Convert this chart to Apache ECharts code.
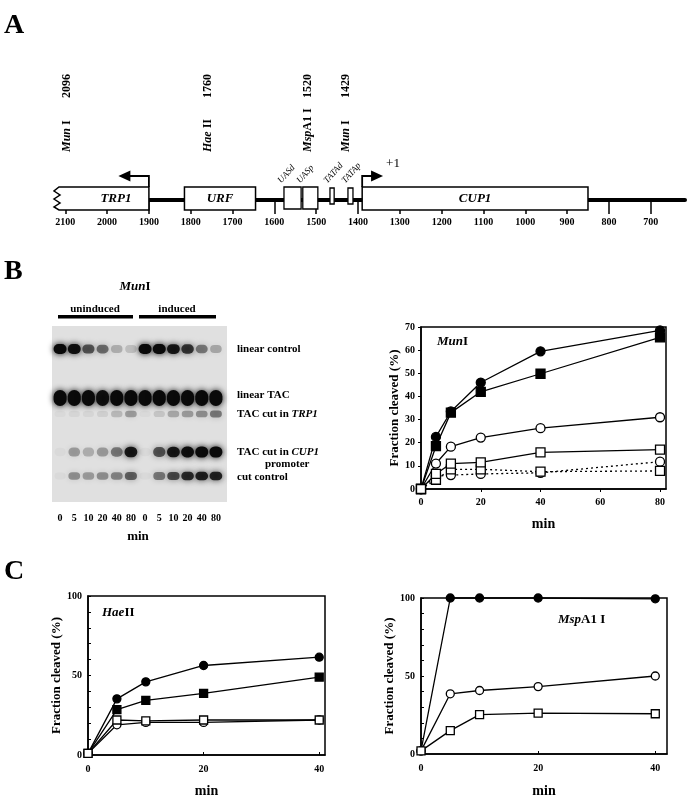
<!DOCTYPE html>
<html>
<head>
<meta charset="utf-8">
<script src="https://cdn.jsdelivr.net/npm/echarts@6/dist/echarts.min.js"></script>
<style>
html, body { margin: 0; padding: 0; background: #fff; }
#chart { width: 690px; height: 799px; }
</style>
</head>
<body>
<div id="chart"></div>
<script>
// ---- panel A: CUP1 / TRP1 map (bp) ----
const mapStart = 2115
const mapEnd = 618
const mapTicks = [2100, 2000, 1900, 1800, 1700, 1600, 1500, 1400, 1300, 1200, 1100, 1000, 900, 800, 700]
const genes = [['TRP1', 2115, 1900], ['URF', 1815, 1645], ['CUP1', 1390, 850]]
const promoterElements = [['UASd', 1577, 1536], ['UASp', 1532, 1496], ['TATAd', 1467, 1457], ['TATAp', 1424, 1412]]
const startArrows = [[1900, 1973, ''], [1390, 1340, '+1']]
const sites = [['Mun', ' I', 2096], ['Hae', ' II', 1760], ['Msp', 'A1 I', 1520], ['Mun', ' I', 1429]]

// ---- panel B: gel ----
const lanes = ['0', '5', '10', '20', '40', '80', '0', '5', '10', '20', '40', '80']
const bandRows = ['linear control', 'linear TAC', 'TAC cut in TRP1', 'TAC cut in CUP1', 'cut control']
const bandDepth = [23, 72, 88, 126, 150]
const linearControl = [1, 0.95, 0.6, 0.5, 0.22, 0.15, 1, 1, 0.9, 0.75, 0.45, 0.25]
const linearTAC = [1, 1, 1, 0.95, 1, 1, 1, 1, 1, 1, 1, 1]
const cutTRP1 = [0.03, 0.05, 0.05, 0.08, 0.18, 0.3, 0.03, 0.12, 0.25, 0.3, 0.35, 0.45]
const cutCUP1 = [0.03, 0.3, 0.22, 0.3, 0.45, 0.9, 0.03, 0.6, 0.9, 0.95, 1, 1]
const cutControl = [0.03, 0.35, 0.3, 0.35, 0.4, 0.55, 0.03, 0.45, 0.65, 0.8, 0.85, 0.85]
const gelRows = [linearControl, linearTAC, cutTRP1, cutCUP1, cutControl]

// ---- panel B: MunI time course ----
const munTimes = [0, 5, 10, 20, 40, 80]
const munInducedCircle = [0, 22.5, 33.5, 46, 59.5, 68.5]
const munInducedSquare = [0, 18.5, 33, 42, 49.8, 65.5]
const munOpenCircle = [0, 11, 18.3, 22.2, 26.3, 31]
const munOpenSquare = [0, 6.5, 11, 11.5, 15.8, 17]
const munDotCircle = [0, 5.5, 6, 6.5, 7, 11.8]
const munDotSquare = [0, 4, 8.5, 8.5, 7.5, 7.8]

// ---- panel C ----
const cTimes = [0, 5, 10, 20, 40]
const haeClosedCircle = [1, 35.3, 46, 56.3, 61.5]
const haeClosedSquare = [1, 28.5, 34.3, 38.8, 49]
const haeOpenSquare = [1, 22, 21.5, 22, 22]
const haeOpenCircle = [1, 19, 20.5, 20.5, 22]
const mspClosedCircle = [2, 100, 100, 100, 99.5]
const mspOpenCircle = [2, 38.6, 40.7, 43.2, 50]
const mspOpenSquare = [2, 15, 25.2, 26.2, 25.8]

const serif = '"Liberation Serif", "DejaVu Serif", serif'
const black = '#000'

const chart = echarts.init(document.getElementById('chart'))

function txt(text, x, y, size, opts) {
  return {
    type: 'text', x, y,
    style: Object.assign({
      text, fontFamily: serif, fontWeight: 'bold', fontSize: size, fill: black,
      rich: { i: { fontStyle: 'italic', fontWeight: 'bold', fontFamily: serif, fontSize: size } }
    }, opts || {})
  }
}

function renderGene(params, api) {
  const p1 = api.coord([api.value(0), 0])
  const p2 = api.coord([api.value(1), 0])
  const y = p1[1]
  const left = Math.min(p1[0], p2[0])
  const right = Math.max(p1[0], p2[0])
  const top = y - 13
  const bot = y + 10
  const boxStyle = { fill: '#fff', stroke: black, lineWidth: 1.5 }
  let body
  let cx = (left + right) / 2
  if (api.value(0) >= mapStart) {
    // broken (zigzag) left end
    const pts = [[right, top], [left, top], [left - 5, top + 4], [left + 1, top + 8], [left - 5, top + 12],
      [left + 1, top + 16], [left - 5, top + 20], [left, bot], [right, bot]]
    body = { type: 'polygon', shape: { points: pts }, style: boxStyle }
    cx += 12
  } else {
    body = { type: 'rect', shape: { x: left, y: top, width: right - left, height: bot - top }, style: boxStyle }
  }
  return {
    type: 'group',
    children: [body, {
      type: 'text',
      style: { text: genes[params.dataIndex][0], x: cx, y: (top + bot) / 2, align: 'center', verticalAlign: 'middle',
        fontFamily: serif, fontWeight: 'bold', fontStyle: 'italic', fontSize: 13, fill: black }
    }]
  }
}

function renderElement(params, api) {
  const p1 = api.coord([api.value(0), 0])
  const p2 = api.coord([api.value(1), 0])
  const y = p1[1]
  const name = promoterElements[params.dataIndex][0]
  const left = Math.min(p1[0], p2[0])
  const right = Math.max(p1[0], p2[0])
  const tata = name.indexOf('TATA') === 0
  const top = y - (tata ? 12 : 13)
  const bot = y + (tata ? 4 : 9)
  return {
    type: 'group',
    children: [
      { type: 'rect', shape: { x: left, y: top, width: right - left, height: bot - top },
        style: { fill: '#fff', stroke: black, lineWidth: 1.3 } },
      { type: 'text', x: left - 1, y: y - 15, rotation: 0.85,
        style: { text: name, x: 0, y: 0, align: 'left', verticalAlign: 'bottom',
          fontFamily: serif, fontStyle: 'italic', fontSize: 9, fill: black } }
    ]
  }
}

function renderArrow(params, api) {
  const p0 = api.coord([api.value(0), 0])
  const xt = api.coord([api.value(1), 0])[0]
  const xs = p0[0]
  const y = p0[1]
  const arm = y - 24
  const dir = xs > xt ? 1 : -1
  const label = startArrows[params.dataIndex][2]
  const children = [
    { type: 'polyline', shape: { points: [[xs, y - 13], [xs, arm], [xt + dir * 10, arm]] },
      style: { stroke: black, lineWidth: 1.8, fill: null } },
    { type: 'polygon', shape: { points: [[xt, arm], [xt + dir * 12, arm - 5.5], [xt + dir * 12, arm + 5.5]] },
      style: { fill: black } }
  ]
  if (label) {
    children.push({ type: 'text', style: { text: label, x: xt + 3, y: arm - 12, align: 'left', verticalAlign: 'middle',
      fontFamily: serif, fontSize: 13, fill: black } })
  }
  return { type: 'group', children }
}

function renderSite(params, api) {
  const p = api.coord([api.value(0), 0])
  const s = sites[params.dataIndex]
  const font = { fontFamily: serif, fontWeight: 'bold', fontSize: 12, fill: black }
  return {
    type: 'group',
    children: [
      { type: 'text', x: p[0], y: p[1] - 48, rotation: Math.PI / 2,
        style: Object.assign({ text: '{i|' + s[0] + '}' + s[1], x: 0, y: 0, align: 'left', verticalAlign: 'middle',
          rich: { i: { fontStyle: 'italic', fontWeight: 'bold', fontFamily: serif, fontSize: 12 } } }, font) },
      { type: 'text', x: p[0], y: p[1] - 102, rotation: Math.PI / 2,
        style: Object.assign({ text: String(s[2]), x: 0, y: 0, align: 'left', verticalAlign: 'middle' }, font) }
    ]
  }
}

const bandHeights = [10, 16, 8, 11, 9]
function renderBand(params, api) {
  const c = api.coord([api.value(0), api.value(1)])
  const a = api.value(2)
  const h = bandHeights[api.value(3)] * (0.75 + 0.25 * a)
  const w = 13 * (0.85 + 0.15 * a)
  const col = 'rgba(10,10,10,' + a + ')'
  return {
    type: 'rect',
    shape: { x: c[0] - w / 2, y: c[1] - h / 2, width: w, height: h, r: h / 2 },
    style: { fill: col, shadowBlur: 6, shadowColor: col }
  }
}

const gelData = []
gelRows.forEach((row, r) => {
  row.forEach((v, i) => gelData.push([i, bandDepth[r], v, r]))
})

function curve(grid, xs, ys, shape, filled, dotted) {
  return {
    type: 'line',
    xAxisIndex: grid,
    yAxisIndex: grid,
    data: xs.map((x, i) => [x, ys[i]]),
    symbol: shape,
    symbolSize: grid === 2 ? 9 : 8,
    clip: false,
    silent: true,
    z: filled ? 3 : 4,
    lineStyle: { color: black, width: 1.3, type: dotted ? [2, 3] : 'solid' },
    itemStyle: { color: filled ? black : '#fff', borderColor: black, borderWidth: 1.3 }
  }
}

const tickFont = { fontFamily: serif, fontWeight: 'bold', fontSize: 10, color: black }
const titleFont = { fontFamily: serif, fontWeight: 'bold', fontSize: 13, color: black }
const frame = { show: true, borderColor: black, borderWidth: 1.5, backgroundColor: 'transparent' }
const axisBlack = { show: true, lineStyle: { color: black, width: 1.5 } }

function timeAxis(grid, max, gap) {
  return {
    gridIndex: grid, type: 'value', min: 0, max, interval: 20,
    axisLine: axisBlack,
    axisTick: { show: true, inside: grid !== 2, length: 3, lineStyle: { color: black } },
    axisLabel: Object.assign({ margin: grid === 2 ? 8 : 9, showMaxLabel: false }, tickFont),
    splitLine: { show: false },
    name: 'min', nameLocation: 'middle', nameGap: gap,
    nameTextStyle: Object.assign({}, titleFont, { fontSize: 14 })
  }
}

function fractionAxis(grid, max, interval, gap) {
  return {
    gridIndex: grid, type: 'value', min: 0, max, interval,
    axisLine: axisBlack,
    axisTick: { show: true, inside: grid !== 2, length: 3, lineStyle: { color: black } },
    minorTick: { show: grid !== 2, splitNumber: 5, length: 3, lineStyle: { color: black } },
    axisLabel: Object.assign({ margin: 6 }, tickFont),
    splitLine: { show: false },
    name: 'Fraction cleaved (%)', nameLocation: 'middle', nameGap: gap,
    nameTextStyle: titleFont
  }
}

chart.setOption({
  animation: false,
  backgroundColor: '#fff',
  grid: [
    { left: 59, right: 5, top: 60, bottom: 599 },
    { left: 53, width: 170, top: 326, height: 176 },
    Object.assign({ left: 421, right: 24, top: 327, bottom: 310 }, frame),
    Object.assign({ left: 88, right: 365, top: 596, bottom: 40 }, frame),
    Object.assign({ left: 421, right: 23, top: 598, bottom: 40 }, frame)
  ],
  xAxis: [
    {
      gridIndex: 0, type: 'value', inverse: true, min: mapEnd, max: mapStart,
      axisLine: { show: true, lineStyle: { color: black, width: 4 } },
      axisTick: { show: true, customValues: mapTicks, length: 14, lineStyle: { color: black, width: 1.5 } },
      axisLabel: Object.assign({ customValues: mapTicks, margin: 17, formatter: v => String(v) }, tickFont),
      splitLine: { show: false }
    },
    {
      gridIndex: 1, type: 'category', data: lanes,
      axisLine: { show: false }, axisTick: { show: false },
      axisLabel: Object.assign({ margin: 11, interval: 0 }, tickFont),
      name: 'min', nameLocation: 'middle', nameGap: 28,
      nameTextStyle: Object.assign({}, titleFont, { fontSize: 13 })
    },
    timeAxis(2, 82, 28),
    timeAxis(3, 41, 29),
    timeAxis(4, 42, 30)
  ],
  yAxis: [
    { gridIndex: 0, type: 'value', min: 0, max: 1, show: false },
    { gridIndex: 1, type: 'value', inverse: true, min: 0, max: 176, show: false },
    fractionAxis(2, 70, 10, 20),
    fractionAxis(3, 100, 50, 21),
    fractionAxis(4, 100, 50, 24)
  ],
  graphic: [
    txt('A', 4, 12, 28),
    txt('B', 4, 258, 28),
    txt('C', 4, 558, 28),
    { type: 'rect', shape: { x: 52, y: 326, width: 175, height: 176 }, style: { fill: '#e0e0e0' }, z: -1 },
    txt('{i|Mun}I', 135, 287, 13, { align: 'center', verticalAlign: 'middle' }),
    txt('uninduced', 95, 309, 11, { align: 'center', verticalAlign: 'middle' }),
    txt('induced', 177, 309, 11, { align: 'center', verticalAlign: 'middle' }),
    { type: 'rect', shape: { x: 58, y: 315, width: 75, height: 3.5 }, style: { fill: black } },
    { type: 'rect', shape: { x: 139, y: 315, width: 77, height: 3.5 }, style: { fill: black } },
    txt(bandRows[0], 237, 349, 11, { verticalAlign: 'middle' }),
    txt(bandRows[1], 237, 395, 11, { verticalAlign: 'middle' }),
    txt('TAC cut in {i|TRP1}', 237, 414, 11, { verticalAlign: 'middle' }),
    txt('TAC cut in {i|CUP1}', 237, 452, 11, { verticalAlign: 'middle' }),
    txt('promoter', 265, 464, 11, { verticalAlign: 'middle' }),
    txt(bandRows[4], 237, 477, 11, { verticalAlign: 'middle' }),
    txt('{i|Mun}I', 437, 342, 13, { verticalAlign: 'middle' }),
    txt('{i|Hae}II', 102, 613, 13, { verticalAlign: 'middle' }),
    txt('{i|Msp}A1 I', 558, 620, 13, { verticalAlign: 'middle' })
  ],
  series: [
    { type: 'custom', xAxisIndex: 0, yAxisIndex: 0, renderItem: renderGene, silent: true, z: 3,
      encode: { x: [0, 1] }, data: genes.map(g => [g[1], g[2]]) },
    { type: 'custom', xAxisIndex: 0, yAxisIndex: 0, renderItem: renderElement, silent: true, z: 3,
      encode: { x: [0, 1] }, data: promoterElements.map(e => [e[1], e[2]]) },
    { type: 'custom', xAxisIndex: 0, yAxisIndex: 0, renderItem: renderArrow, silent: true, z: 4,
      encode: { x: [0, 1] }, data: startArrows.map(a => [a[0], a[1]]) },
    { type: 'custom', xAxisIndex: 0, yAxisIndex: 0, renderItem: renderSite, silent: true, z: 3,
      encode: { x: 0 }, data: sites.map(s => [s[2]]) },
    { type: 'custom', xAxisIndex: 1, yAxisIndex: 1, renderItem: renderBand, silent: true, z: 2,
      encode: { x: 0, y: 1 }, data: gelData },

    curve(2, munTimes, munInducedCircle, 'circle', true),
    curve(2, munTimes, munInducedSquare, 'rect', true),
    curve(2, munTimes, munOpenCircle, 'circle', false),
    curve(2, munTimes, munDotCircle, 'circle', false, true),
    curve(2, munTimes, munDotSquare, 'rect', false, true),
    curve(2, munTimes, munOpenSquare, 'rect', false),

    curve(3, cTimes, haeClosedCircle, 'circle', true),
    curve(3, cTimes, haeClosedSquare, 'rect', true),
    curve(3, cTimes, haeOpenCircle, 'circle', false),
    curve(3, cTimes, haeOpenSquare, 'rect', false),

    curve(4, cTimes, mspClosedCircle, 'circle', true),
    curve(4, cTimes, mspOpenCircle, 'circle', false),
    curve(4, cTimes, mspOpenSquare, 'rect', false)
  ]
})
</script>
</body>
</html>
